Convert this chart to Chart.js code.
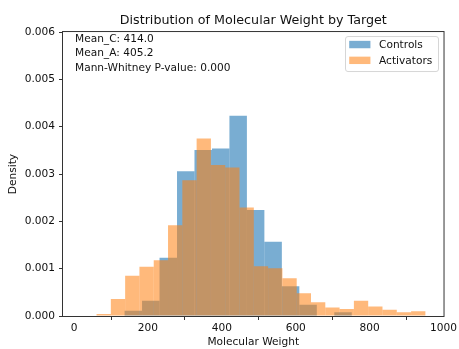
<!DOCTYPE html>
<html>
<head>
<meta charset="utf-8">
<script src="https://cdn.jsdelivr.net/npm/chart.js@4.4.1/dist/chart.umd.min.js"></script>
<style>
  html, body { margin: 0; padding: 0; background: #fff; }
  #histChart { display: block; }
</style>
</head>
<body>
<canvas id="histChart" width="459" height="349"></canvas>
<script>
// Bin edges (molecular weight) and density per bin
const controlEdges = [136.7, 184.0, 231.3, 278.6, 325.9, 373.2, 420.5, 467.8, 515.1, 562.4, 609.7, 657.0, 704.3, 751.6];
const controlDensity = [0.00011, 0.00032, 0.00123, 0.00306, 0.00351, 0.00354, 0.00423, 0.00224, 0.00157, 0.00063, 0.00024, 0, 0.00008];

const activatorEdges = [60.8, 99.5, 138.2, 176.9, 215.6, 254.3, 293.0, 331.7, 370.4, 409.1, 447.8, 486.5,
                        525.2, 563.9, 602.6, 641.3, 680.0, 718.7, 757.4, 796.1, 834.8, 873.5, 912.2, 950.9];
const activatorDensity = [0.00004, 0.00036, 0.00085, 0.00104, 0.00118, 0.00192, 0.00287, 0.00375, 0.00319, 0.00314, 0.00229, 0.00105,
                          0.00101, 0.00080, 0.00048, 0.00029, 0.00018, 0.00015, 0.00032, 0.00020, 0.00013, 0.00008, 0.00010];

const xTicks = [0, 200, 400, 600, 800, 1000];
const yTicks = [0, 0.001, 0.002, 0.003, 0.004, 0.005, 0.006];
const statLines = ['Mean_C: 414.0', 'Mean_A: 405.2', 'Mann-Whitney P-value: 0.000'];

const FONT = 'DejaVu Sans';
const TEXT = '#111';
const AXIS = '#333';

Chart.defaults.font.family = FONT;
Chart.defaults.font.size = 10.6;
Chart.defaults.color = TEXT;

// one bar per bin, centred between its edges
function toBars(edges, values) {
    return values.map((v, i) => ({ x: (edges[i] + edges[i + 1]) / 2, y: v }));
}

// frame, stats text and legend box drawn inside the plot area
const decorPlugin = {
    id: 'decor',
    afterDatasetsDraw(chart) {
        const ctx = chart.ctx;
        const a = chart.chartArea;
        ctx.save();

        // stats in the top left corner
        ctx.font = '10.6px "' + FONT + '"';
        ctx.fillStyle = TEXT;
        ctx.textAlign = 'left';
        ctx.textBaseline = 'alphabetic';
        statLines.forEach((t, i) => ctx.fillText(t, a.left + 12, a.top + 9.7 + i * 14.4));

        // legend in the top right corner
        const lx = a.right - 98.5, ly = a.top + 4, lw = 93, lh = 35;
        ctx.beginPath();
        if (ctx.roundRect) ctx.roundRect(lx + 0.5, ly + 0.5, lw, lh, 2.5);
        else ctx.rect(lx + 0.5, ly + 0.5, lw, lh);
        ctx.fillStyle = 'rgba(255,255,255,0.8)';
        ctx.fill();
        ctx.strokeStyle = '#d6d6d6';
        ctx.lineWidth = 1;
        ctx.stroke();

        ctx.textBaseline = 'middle';
        chart.data.datasets.forEach((ds, i) => {
            const cy = ly + 8.5 + i * 15.8;
            ctx.fillStyle = ds.backgroundColor;
            ctx.fillRect(lx + 4.2, cy - 3.7, 21.2, 7.4);
            ctx.fillStyle = TEXT;
            ctx.fillText(ds.label, lx + 34, cy + 0.5);
        });

        // all four spines
        ctx.strokeStyle = AXIS;
        ctx.lineWidth = 1;
        ctx.strokeRect(a.left - 0.5, a.top - 0.5, a.right - a.left + 1, a.bottom - a.top + 1);
        ctx.restore();
    }
};

const tickGrid = { drawOnChartArea: false, drawTicks: true, tickLength: 4, color: AXIS, lineWidth: 1 };

const ctx = document.getElementById('histChart').getContext('2d');
const chart = new Chart(ctx, {
    type: 'bar',
    data: {
        datasets: [{
            label: 'Controls',
            data: toBars(controlEdges, controlDensity),
            xAxisID: 'x',
            backgroundColor: 'rgba(31, 119, 180, 0.6)',
            borderWidth: 0,
            barPercentage: 1,
            categoryPercentage: 1,
            grouped: false,
            inflateAmount: 0,
            order: 2
        }, {
            label: 'Activators',
            data: toBars(activatorEdges, activatorDensity),
            xAxisID: 'x2',
            backgroundColor: 'rgba(255, 127, 14, 0.55)',
            borderWidth: 0,
            barPercentage: 1,
            categoryPercentage: 1,
            grouped: false,
            inflateAmount: 0,
            order: 1
        }]
    },
    options: {
        responsive: false,
        animation: false,
        devicePixelRatio: 1,
        layout: { padding: { left: 0, right: 12, top: 0, bottom: 0 } },
        plugins: {
            legend: { display: false },
            tooltip: { enabled: false },
            title: {
                display: true,
                fullSize: false,
                text: 'Distribution of Molecular Weight by Target',
                font: { size: 12.7, weight: 'normal' },
                color: TEXT,
                padding: { top: 13.3, bottom: 3.5 }
            }
        },
        scales: {
            x: {
                type: 'linear',
                min: -30,
                max: 1000,
                offset: false,
                grid: tickGrid,
                border: { display: false },
                ticks: { padding: 2, maxRotation: 0, callback: v => v },
                afterBuildTicks: s => { s.ticks = xTicks.map(v => ({ value: v })); },
                afterFit: s => { s.height = 33; },
                title: { display: true, text: 'Molecular Weight', padding: { top: 0, bottom: 0.5 } }
            },
            x2: {
                type: 'linear',
                display: false,
                min: -30,
                max: 1000,
                offset: false,
                afterBuildTicks: s => { s.ticks = xTicks.map(v => ({ value: v })); }
            },
            y: {
                min: 0,
                max: 0.006,
                grid: tickGrid,
                border: { display: false },
                ticks: { padding: 4, callback: v => v.toFixed(3) },
                afterBuildTicks: s => { s.ticks = yTicks.map(v => ({ value: v })); },
                afterFit: s => { s.width = 63; },
                title: { display: true, text: 'Density', padding: { top: 7, bottom: 0 } }
            }
        }
    },
    plugins: [decorPlugin]
});
</script>
</body>
</html>
